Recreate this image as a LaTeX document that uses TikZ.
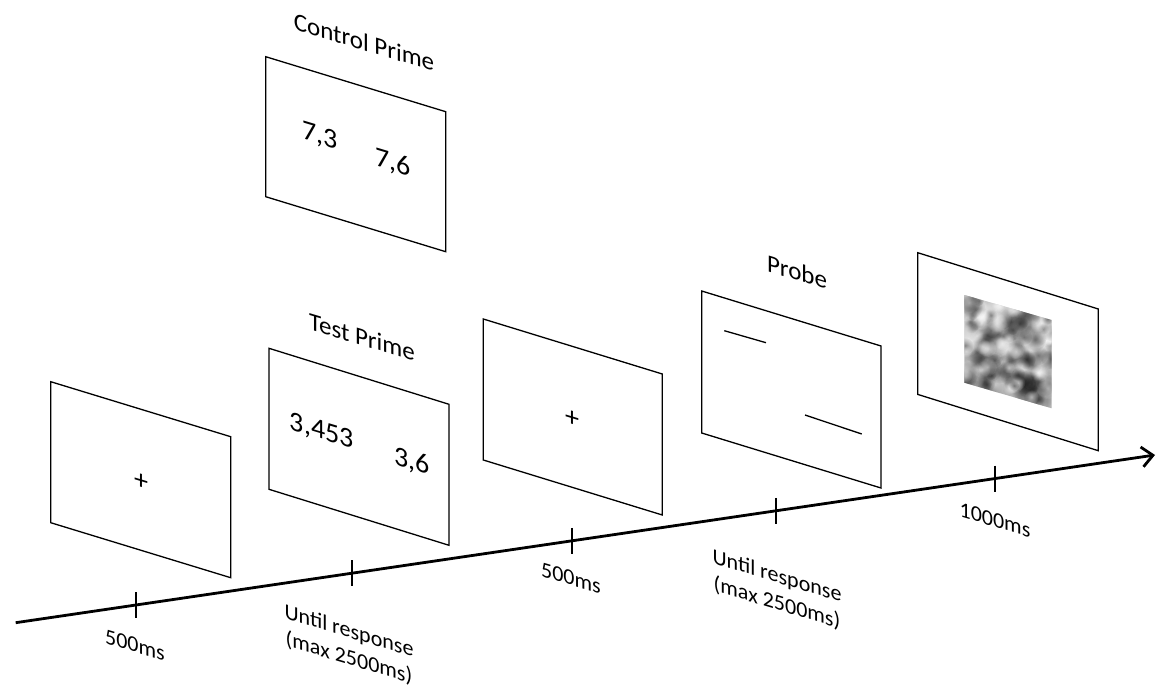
\documentclass[tikz,border=0pt]{standalone}
\usepackage{fontspec}
\setmainfont{Carlito}
\usetikzlibrary{arrows.meta,calc,fadings}
\tikzfading[name=blob,inner color=transparent!0,outer color=transparent!100]

\begin{document}
\begin{tikzpicture}[x=1pt,y=-1pt,
  screen/.style={draw=black,line width=1.3pt,fill=white},
  lbl/.style={yslant=-0.3,font=\fontsize{22}{27}\selectfont,align=center,inner sep=0pt},
  ttl/.style={yslant=-0.3,font=\fontsize{25}{27}\selectfont,inner sep=0pt},
  num/.style={yslant=-0.3,font=\fontsize{28}{30}\selectfont,inner sep=0pt},
  tickmark/.style={line width=2.2pt}]
  \useasboundingbox (0,0) rectangle (1163,698);

  % screens
  \draw[screen] (265.7,56.7) -- ++(180,55) -- ++(0,140) -- ++(-180,-55) -- cycle;
  \draw[screen] (50.7,381.7) -- ++(180,55) -- ++(0,141) -- ++(-180,-55) -- cycle;
  \draw[screen] (269,348.3) -- ++(180,56) -- ++(0,141) -- ++(-180,-56) -- cycle;
  \draw[screen] (483.3,319) -- ++(179,55) -- ++(0,141) -- ++(-179,-55) -- cycle;
  \draw[screen] (701.7,291) -- ++(179.3,55) -- ++(0,142) -- ++(-179.3,-55) -- cycle;
  \draw[screen] (917.7,252.7) -- ++(180.6,56.3) -- ++(0,141.7) -- ++(-180.6,-56.3) -- cycle;

  % mask
  \begin{scope}
    \clip (964.3,295) -- (1051.7,320) -- (1051.7,408.3) -- (964.3,382.7) -- cycle;
    \fill[gray!60] (960,290) rectangle (1056,412);
    \pgfmathsetseed{11}
    \foreach \k in {1,...,240} {
      \pgfmathsetmacro{\u}{rnd}
      \pgfmathsetmacro{\v}{rnd}
      \pgfmathsetmacro{\r}{5+9*rnd}
      \pgfmathsetmacro{\g}{ifthenelse(rnd>0.5,90,0)}
      \fill[black!\g,path fading=blob,opacity=0.5]
        (964.3+87.4*\u,295+25*\u+87.7*\v) circle (\r);
    }
  \end{scope}

  % screen contents
  \node[num] (fix1) at (141,481.7) {+};
  \node[num] (tp1) at (321.7,431.7) {3,453};
  \node[num] (tp2) at (411.7,461.7) {3,6};
  \node[num] (cp1) at (320,136.7) {7,3};
  \node[num] (cp2) at (393.3,163.3) {7,6};
  \node[num] (fix2) at (572.7,419.3) {+};
  \draw[line width=1.3pt] (724.3,330.7) -- (766,342.7);
  \draw[line width=1.3pt] (805,415) -- (861.7,434);

  % titles
  \node[ttl] (ctitle) at (364,42) {Control Prime};
  \node[ttl] (ttitle) at (362,337) {Test Prime};
  \node[ttl] (ptitle) at (797,272) {Probe};

  % time axis
  \coordinate (t0) at (15.7,622.7);
  \coordinate (t1) at (1155,455);
  \draw[line width=2.8pt,-{Straight Barb[length=11pt,width=20pt]}] (t0) -- (t1);
  \foreach \p [count=\i] in {0.1053,0.2954,0.4880,0.6673,0.8596} {
    \coordinate (m\i) at ($(t0)!\p!(t1)$);
    \draw[tickmark] ($(m\i)+(0,-13)$) -- ($(m\i)+(0,13)$);
  }

  \node[lbl] (l1) at (135,645) {500ms};
  \node[lbl] (l2) at (349,645) {Until response\\(max 2500ms)};
  \node[lbl] (l3) at (571,578) {500ms};
  \node[lbl] (l4) at (777,590) {Until response\\(max 2500ms)};
  \node[lbl] (l5) at (995,520) {1000ms};
\end{tikzpicture}
\end{document}
